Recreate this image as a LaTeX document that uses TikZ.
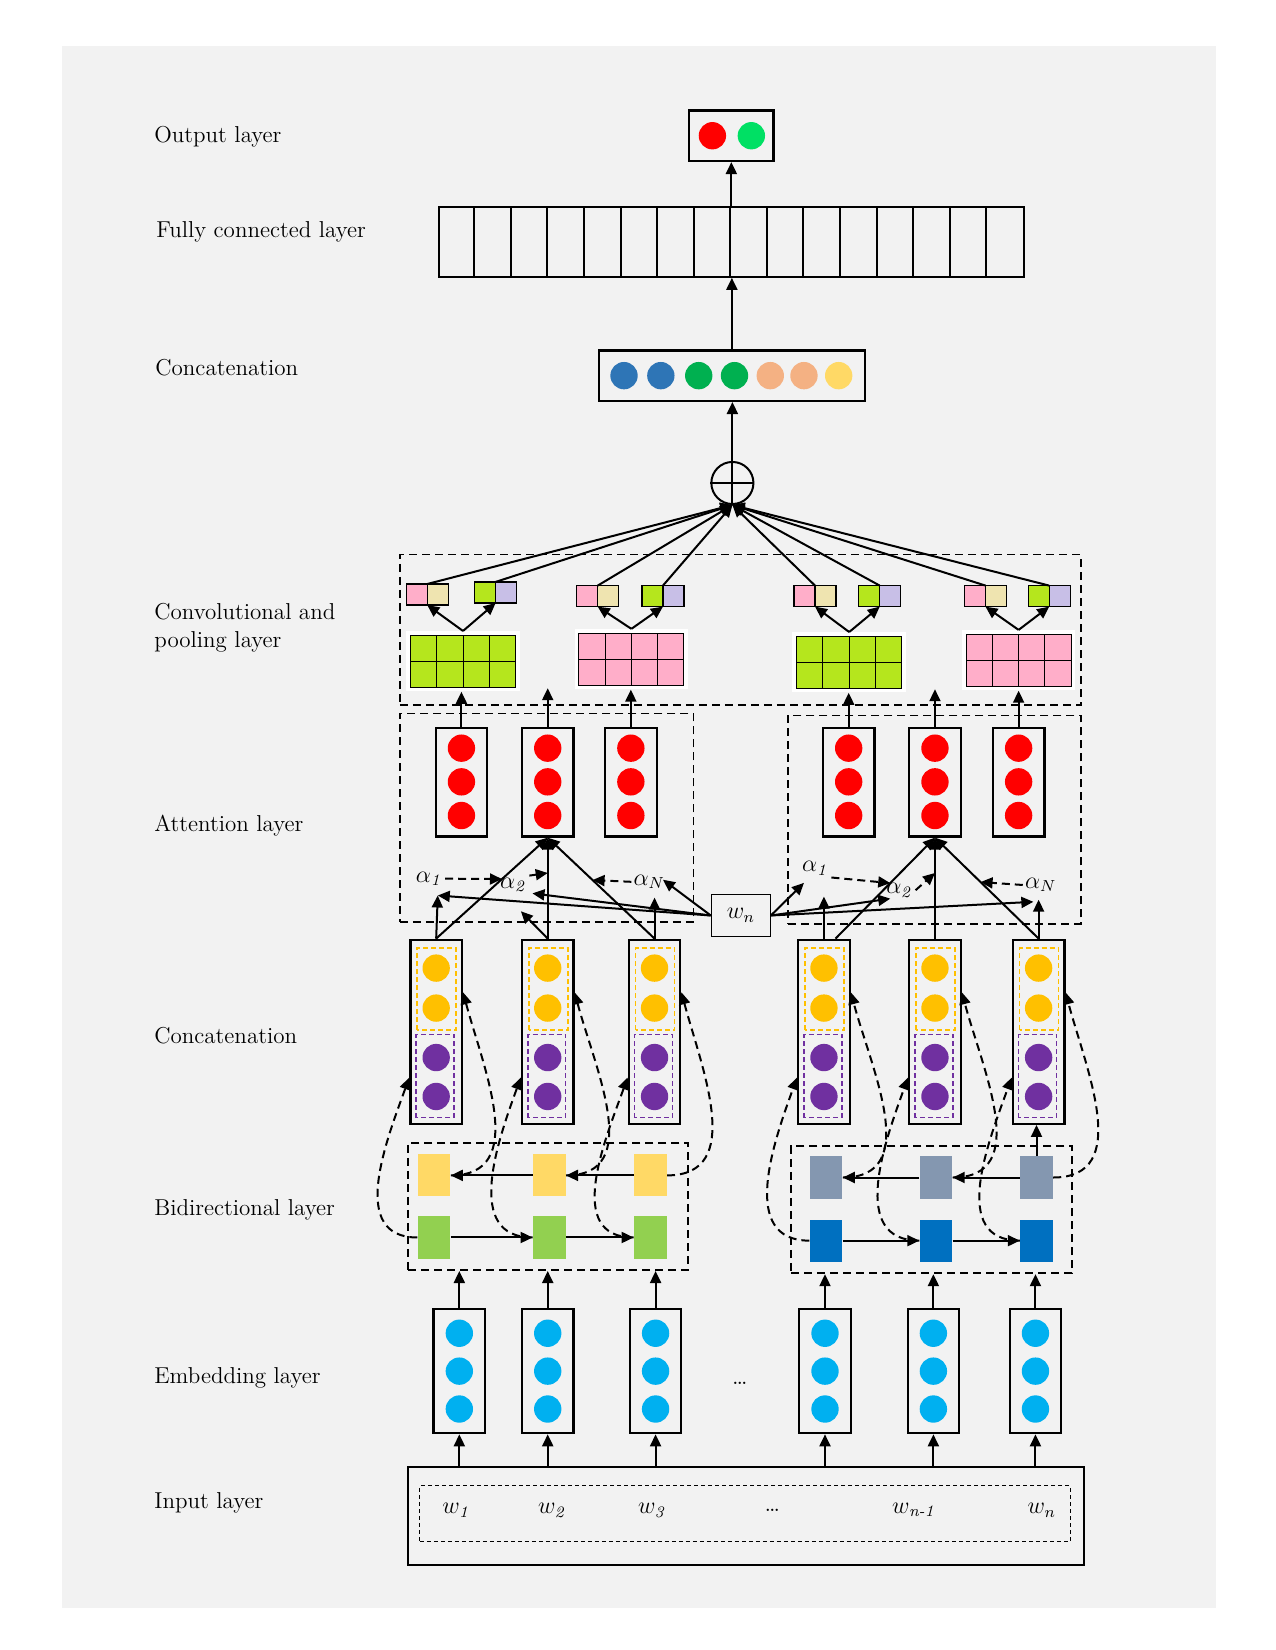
\documentclass[tikz,border=0pt]{standalone}
\usepackage{amsmath}
\usetikzlibrary{arrows.meta,calc,positioning}
\usepackage{xcolor}
% colours
\definecolor{bggray}{HTML}{F2F2F2}
\definecolor{embblue}{HTML}{00B0F0}
\definecolor{catyellow}{HTML}{FFC000}
\definecolor{catpurple}{HTML}{7030A0}
\definecolor{bwyellow}{HTML}{FFD966}
\definecolor{fwgreen}{HTML}{92D050}
\definecolor{bwslate}{HTML}{8497B0}
\definecolor{fwblue}{HTML}{0070C0}
\definecolor{convgreen}{HTML}{B5E61D}
\definecolor{convpink}{HTML}{FFAEC9}
\definecolor{poolcream}{HTML}{EFE4B0}
\definecolor{poollilac}{HTML}{C8BFE7}
\definecolor{outred}{HTML}{FF0000}
\definecolor{outgreen}{HTML}{00E064}
\definecolor{ccblue}{HTML}{2E75B6}
\definecolor{ccgreen}{HTML}{00B050}
\definecolor{ccpeach}{HTML}{F4B183}
\definecolor{ccyellow}{HTML}{FFD966}
\newlength{\px}
\setlength{\px}{0.526pt}
\newcommand{\dotstack}[3]{% {x}{y list}{colour}
  \foreach \dy in {#2} {\fill[#3] (#1,\dy) circle (13);}
}
\newcommand{\featuremap}[3]{% {x}{y}{colour}, lower left corner of a 4x2 map
  \foreach \cc in {0,...,3} {
    \foreach \rr in {0,1} {
      \draw[line width=0.5pt,fill=#3] (#1+\cc*25,#2+\rr*24.5) rectangle ++(25,24.5);
    }
  }
}

\begin{document}
\begin{tikzpicture}[x=\px,y=\px,
  lbl/.style={anchor=west,align=left,font=\fontsize{11.5}{14}\selectfont},
  mathlbl/.style={font=\fontsize{12}{14}\selectfont,inner sep=1pt},
  arr/.style={line width=1pt,-{Triangle[length=6pt,width=5.5pt]}},
  dasharr/.style={arr,dash pattern=on 4pt off 2.5pt},
  groupbox/.style={draw,line width=0.9pt,dash pattern=on 4pt off 2.5pt,inner sep=0},
  vecbox/.style={draw,line width=1.1pt,fill=bggray,inner sep=0,minimum width=49\px,minimum height=118\px},
  catbox/.style={vecbox,minimum height=175\px},
  attbox/.style={vecbox,minimum height=103\px},
  poolcell/.style={draw,line width=0.6pt,inner sep=0,outer sep=0,minimum size=20\px},
  rnnstate/.style={inner sep=0,minimum width=31\px,minimum height=40\px},
]
% Canvas
\fill[white] (0,0) rectangle (1212,1568);
\fill[bggray] (59,40) rectangle (1156,1524);
\useasboundingbox (0,0) rectangle (1212,1568);

% Layer names
\node[lbl] (lout) at (140,1438) {Output layer};
\node[lbl] (lfc) at (142,1348) {Fully connected layer};
\node[lbl] (lcat2) at (141,1219) {Concatenation};
\node[lbl] (lconv) at (140,971) {Convolutional and\\pooling layer};
\node[lbl] (latt) at (140,783) {Attention layer};
\node[lbl] (lcat1) at (140,584) {Concatenation};
\node[lbl] (lbi) at (140,418) {Bidirectional layer};
\node[lbl] (lemb) at (140,259) {Embedding layer};
\node[lbl] (lin) at (140,140) {Input layer};

% Input layer
\node[draw,line width=1.1pt,minimum width=642\px,minimum height=93\px] (inbox) at (709,127.5) {};
\node[draw,line width=0.4pt,dash pattern=on 2pt off 1.5pt,minimum width=618\px,minimum height=53\px] (inwords) at (708,129.5) {};
\node[mathlbl] (w1) at (434,133) {$w_{\mathit{1}}$};
\node[mathlbl] (w2) at (525,133) {$w_{\mathit{2}}$};
\node[mathlbl] (w3) at (620,133) {$w_{\mathit{3}}$};
\node[mathlbl] (idots) at (734,133) {\dots};
\node[mathlbl] (wm) at (868,133) {$w_{\textit{n-1}}$};
\node[mathlbl] (wlast) at (990,133) {$w_n$};

% Embedding layer
\foreach \n/\x in {1/436.5,2/520.5,3/623,4/784,5/887,6/984} {
  \node[vecbox] (emb\n) at (\x,265) {};
  \dotstack{\x}{229,265,301}{embblue}
  \draw[arr] (emb\n.south |- inbox.north) -- (emb\n.south);
}
\node[mathlbl] (edots) at (703,253) {\dots};

% Bidirectional layer
\node[groupbox,minimum width=266\px,minimum height=121\px] (bileft) at (521,421.5) {};
\node[groupbox,minimum width=267\px,minimum height=121\px] (biright) at (885.5,418.5) {};
\foreach \n in {1,2,3} \draw[arr] (emb\n.north) -- (emb\n.north |- bileft.south);
\foreach \n in {4,5,6} \draw[arr] (emb\n.north) -- (emb\n.north |- biright.south);
\foreach \n/\x in {1/412.5,2/522,3/618} {
  \node[rnnstate,fill=bwyellow] (bw\n) at (\x,451) {};
  \node[rnnstate,fill=fwgreen] (fw\n) at (\x,392) {};
}
\foreach \n/\x in {4/785,5/889.5,6/985} {
  \node[rnnstate,fill=bwslate] (bw\n) at (\x,449) {};
  \node[rnnstate,fill=fwblue] (fw\n) at (\x,389) {};
}
\foreach \a/\b in {1/2,2/3,4/5,5/6} {
  \draw[arr] (fw\a.east) -- (fw\b.west);
  \draw[arr] (bw\b.west) -- (bw\a.east);
}

% Concatenation of both directions
\foreach \n/\x in {1/414.5,2/520.5,3/622,4/783,5/888.5,6/987} {
  \node[catbox] (cat\n) at (\x,587.5) {};
  \draw[catyellow,line width=0.8pt,dash pattern=on 2.5pt off 1.5pt] (\x-18,589) rectangle (\x+19,667);
  \draw[catpurple,line width=0.8pt,dash pattern=on 2.5pt off 1.5pt] (\x-19,506) rectangle (\x+17,585);
  \dotstack{\x}{648,610}{catyellow}
  \dotstack{\x}{563,526}{catpurple}
  \draw[dasharr] (fw\n.west) to[out=180,in=-110,looseness=1.1] ($(cat\n.west)+(0,-43.5)$);
  \draw[dasharr] (bw\n.east) to[out=0,in=-75,looseness=1.1] ($(cat\n.east)+(0,37.5)$);
}
\draw[arr] (bw6.north) -- (bw6.north |- cat6.south);

% Attention layer
\node[groupbox,minimum width=279\px,minimum height=198\px] (attleft) at (519.5,791) {};
\node[groupbox,minimum width=278\px,minimum height=198\px] (attright) at (888,789) {};
\foreach \n/\x in {1/438.5,2/520.5,3/599.5,4/806.5,5/888.5,6/968} {
  \node[attbox] (att\n) at (\x,824.5) {};
  \dotstack{\x}{793,825,857}{outred}
}
\foreach \n in {1,2,3} \draw[arr] (cat\n.north) -- (att2.south);
\coordinate (cat4top) at ($(cat4.north)+(11,0)$);
\draw[arr] (cat4top) -- (att5.south);
\foreach \n in {5,6} \draw[arr] (cat\n.north) -- (att5.south);

\node[draw,line width=0.6pt,fill=bggray,minimum width=56\px,minimum height=40\px,font=\fontsize{12}{14}\selectfont] (wn) at (704,698) {$w_n$};
\node[mathlbl] (a1l) at (408,733) {$\alpha_{\mathit{1}}$};
\node[mathlbl] (a2l) at (488,727) {$\alpha_{\mathit{2}}$};
\node[mathlbl] (aNl) at (617,730) {$\alpha_N$};
\node[mathlbl] (a1r) at (775,743) {$\alpha_{\mathit{1}}$};
\node[mathlbl] (a2r) at (855,722) {$\alpha_{\mathit{2}}$};
\node[mathlbl] (aNr) at (989,727) {$\alpha_N$};

% weights onto the score lines
\coordinate (s1l) at ($(cat1.north)!0.59!(att2.south)$);
\coordinate (s2l) at ($(cat2.north)!0.65!(att2.south)$);
\coordinate (sNl) at ($(cat3.north)!0.58!(att2.south)$);
\coordinate (s1r) at ($(cat4top)!0.55!(att5.south)$);
\coordinate (s2r) at ($(cat5.north)!0.65!(att5.south)$);
\coordinate (sNr) at ($(cat6.north)!0.56!(att5.south)$);
\draw[dasharr] (a1l.east) -- (s1l);
\draw[dasharr] (a2l.north east) -- (s2l);
\draw[dasharr] (aNl.west) -- (sNl);
\draw[dasharr] (a1r.south east) -- (s1r);
\draw[dasharr] (a2r.east) -- (s2r);
\draw[dasharr] (aNr.west) -- (sNr);

% query word
\coordinate (t1l) at (416,717);
\coordinate (t2l) at (506,719);
\coordinate (tNl) at (630,732);
\coordinate (t1r) at (764,729);
\coordinate (t2r) at (846,714);
\coordinate (tNr) at (982,711);
\foreach \t in {t1l,t2l,tNl} \draw[arr] (wn.west) -- (\t);
\foreach \t in {t1r,t2r,tNr} \draw[arr] (wn.east) -- (\t);
\coordinate (u2l) at (495,702);
\coordinate (uNl) at (622,715);
\coordinate (u1r) at (783,716);
\coordinate (uNr) at (987,713);
\draw[arr] (cat1.north) -- (t1l);
\draw[arr] (cat2.north) -- (u2l);
\draw[arr] (cat3.north) -- (uNl);
\draw[arr] (cat4.north) -- (u1r);
\draw[arr] (cat6.north) -- (uNr);

% Convolution and pooling
\node[groupbox,minimum width=647\px,minimum height=143\px] (convbox) at (703.5,969.5) {};
\foreach \n/\x/\y/\col in {1/390/915/convgreen,2/550/917/convpink,3/757/914/convgreen,4/918/916/convpink} {
  \node[fill=white,inner sep=0,minimum width=108\px,minimum height=57\px] (fmap\n) at (\x+50,\y+24.5) {};
  \featuremap{\x}{\y}{\col}
}
\coordinate (gap1) at (520.5,914);
\coordinate (gap2) at (888.5,913);
\draw[arr] (att1.north) -- (att1.north |- fmap1.south);
\draw[arr] (att2.north) -- (gap1);
\draw[arr] (att3.north) -- (att3.north |- fmap2.south);
\draw[arr] (att4.north) -- (att4.north |- fmap3.south);
\draw[arr] (att5.north) -- (gap2);
\draw[arr] (att6.north) -- (att6.north |- fmap4.south);
\foreach \n/\x/\y in {1/406/1003,2/568/1001.5,3/774.5/1001.5,4/936.5/1001.5} {
  \node[poolcell,fill=convpink,anchor=east] (pk\n) at (\x,\y) {};
  \node[poolcell,fill=poolcream,right=0pt of pk\n] (cr\n) {};
}
\foreach \n/\x/\y in {1/471/1005,2/630/1001.5,3/836/1001.5,4/997/1001.5} {
  \node[poolcell,fill=convgreen,anchor=east] (gr\n) at (\x,\y) {};
  \node[poolcell,fill=poollilac,right=0pt of gr\n] (li\n) {};
}
\foreach \n in {1,...,4} {
  \draw[arr] (fmap\n.north) -- (pk\n.south east);
  \draw[arr] (fmap\n.north) -- (gr\n.south east);
}

% Merge
\node[draw,circle,line width=1pt,minimum size=40\px,inner sep=0] (plus) at (696,1109) {};
\draw[line width=1pt] (plus.west) -- (plus.east);
\foreach \n in {1,...,4} {
  \draw[arr] (pk\n.north east) -- (plus.south);
  \draw[arr] (gr\n.north east) -- (plus.south);
}

% Concatenation, fully connected, output
\node[draw,line width=1.1pt,fill=bggray,minimum width=253\px,minimum height=48\px] (ccat) at (695.5,1211) {};
\foreach \x/\col in {593/ccblue,628/ccblue,664/ccgreen,698/ccgreen,732/ccpeach,764/ccpeach,797/ccyellow}
  \fill[\col] (\x,1211) circle (13);
\draw[arr] (plus.south) -- (plus.south |- ccat.south);
\node[draw,line width=1.1pt,minimum width=556\px,minimum height=66\px] (fc) at (695,1338) {};
\foreach \i in {1,...,15} \draw[line width=1pt] ($(fc.south west)+(\i*34.75,0)$) -- ++(0,66);
\draw[arr] (ccat.north) -- (ccat.north |- fc.south);
\node[draw,line width=1.1pt,minimum width=80\px,minimum height=48\px] (outbox) at (695,1439) {};
\fill[outred] (677,1439) circle (13);
\fill[outgreen] (714,1439) circle (13);
\draw[arr] (fc.north) -- (fc.north |- outbox.south);
\end{tikzpicture}
\end{document}
